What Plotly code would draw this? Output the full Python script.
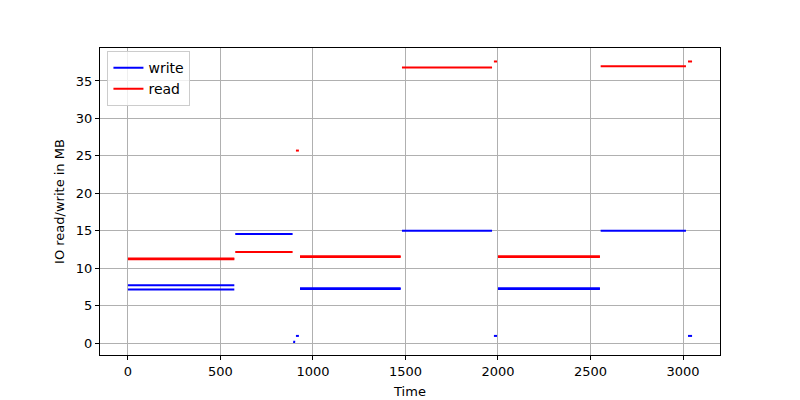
import plotly.graph_objects as go

# Piecewise IO traces; None separates disconnected runs
write_time = [0, 575, None, 0, 575, None, 580, 890, None, 898, 899, None,
              908, 924, None, 930, 1474, None, 930, 1474, None, 1481, 1968, None,
              1978, 1995, None, 2000, 2551, None, 2000, 2551, None, 2555, 3016, None,
              3027, 3049]
write_mb = [7.7, 7.7, None, 7.15, 7.15, None, 14.55, 14.55, None, 0.0, 0.3, None,
            0.95, 0.95, None, 7.2, 7.2, None, 7.3, 7.3, None, 15.0, 15.0, None,
            0.95, 0.95, None, 7.2, 7.2, None, 7.3, 7.3, None, 15.0, 15.0, None,
            0.95, 0.95]

read_time = [0, 575, None, 0, 575, None, 580, 890, None, 908, 924, None,
             930, 1474, None, 930, 1474, None, 1481, 1968, None, 1978, 1995, None,
             2000, 2551, None, 2000, 2551, None, 2555, 3016, None, 3027, 3049]
read_mb = [11.2, 11.2, None, 11.3, 11.3, None, 12.15, 12.15, None, 25.7, 25.7, None,
           11.5, 11.5, None, 11.6, 11.6, None, 36.8, 36.8, None, 37.6, 37.6, None,
           11.5, 11.5, None, 11.6, 11.6, None, 36.95, 36.95, None, 37.6, 37.6]

x_ticks = [0, 500, 1000, 1500, 2000, 2500, 3000]
y_ticks = [0, 5, 10, 15, 20, 25, 30, 35]

fig = go.Figure()
fig.add_trace(go.Scatter(x=write_time, y=write_mb, mode="lines", name="write",
                         line=dict(color="blue", width=2), connectgaps=False))
fig.add_trace(go.Scatter(x=read_time, y=read_mb, mode="lines", name="read",
                         line=dict(color="red", width=2), connectgaps=False))

axis_common = dict(showline=True, linecolor="black", linewidth=1, mirror=True,
                   ticks="outside", ticklen=4, tickcolor="black", automargin=False,
                   showgrid=True, gridcolor="#b0b0b0", gridwidth=1, zeroline=False,
                   tickfont=dict(size=13, color="black"))

fig.update_layout(
    width=800, height=400,
    paper_bgcolor="white", plot_bgcolor="white",
    font=dict(family="DejaVu Sans", size=13, color="black"),
    margin=dict(l=100, r=80, t=48, b=45, autoexpand=False),
    xaxis=dict(range=[-151, 3200], tickvals=x_ticks,
               title=dict(text="Time", standoff=9, font=dict(size=13)), **axis_common),
    yaxis=dict(range=[-1.6, 39.4], tickvals=y_ticks,
               title=dict(text="IO read/write in MB", standoff=8, font=dict(size=13)), **axis_common),
    legend=dict(x=0.012, y=0.99, xanchor="left", yanchor="top",
                bgcolor="rgba(255,255,255,0.8)", bordercolor="#cccccc", borderwidth=1,
                font=dict(size=14), itemwidth=30, tracegroupgap=0),
    showlegend=True,
)

fig.write_html("out.html", config={"displayModeBar": False},
               post_script="document.body.style.margin='0';document.body.style.overflow='hidden';")
